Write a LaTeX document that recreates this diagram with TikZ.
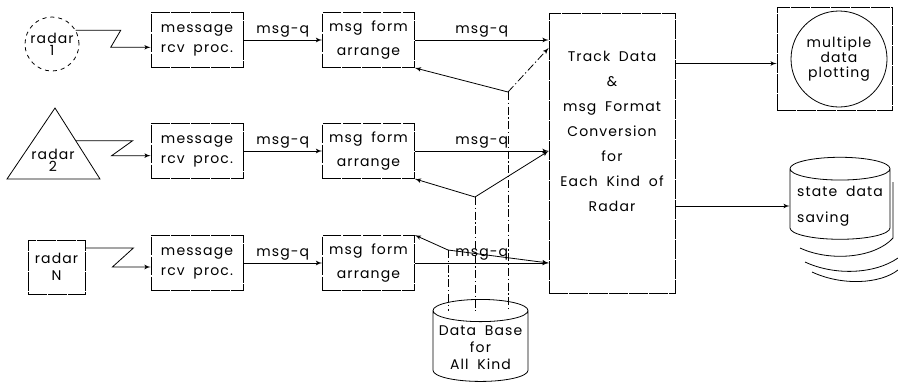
\documentclass[tikz,border=0pt]{standalone}
\usepackage{fontspec}
\newfontfamily\plotfont[LetterSpace=8, WordSpace=1.8]{Poppins}
\usetikzlibrary{positioning, shapes, arrows, calc}

\begin{document}
\begin{tikzpicture}[auto, x=0.75pt, y=-0.75pt, >=latex', line width=0.6pt,
        font=\plotfont\fontsize{10.5}{12}\selectfont]
        % Définition des styles
        \tikzstyle{block} = [draw, rectangle, minimum width=69pt, minimum height=41.25pt, align=center, inner sep=2pt, dash pattern=on 14pt off 1pt]
        \tikzstyle{txt} = [align=center, inner sep=0pt]
        \tikzstyle{store} = [draw, cylinder, shape border rotate=90, aspect=0.25, inner sep=2pt]
        \tikzstyle{dbline} = [dash pattern=on 6pt off 2pt on 1pt off 2pt]

        \useasboundingbox (0,0) rectangle (898,383);

        % Radars
        \node [draw, circle, dashed, minimum size=40.5pt, align=center, inner sep=0pt] (radar1) at (52,44) {radar\\[-3pt]1};
        \coordinate (r2a) at (55,108);
        \coordinate (r2b) at (100,179);
        \coordinate (r2c) at (7,179);
        \draw (r2a) -- (r2b) -- (r2c) -- cycle;
        \node [txt] (radar2) at (53,160) {radar\\[-3pt]2};
        \node [block, minimum width=42.75pt, minimum height=40.5pt] (radarN) at (56.5,267) {radar\\[0.75pt]N};

        % Blocs de réception
        \node [block] (rcv1) at (197,40) {message\\[3pt]rcv proc.};
        \node [block, below of=rcv1, node distance=83.25pt] (rcv2) {message\\[3pt]rcv proc.};
        \node [block, below of=rcv2, node distance=84pt] (rcv3) {message\\[3pt]rcv proc.};

        % Blocs de mise en forme
        \node [block, right of=rcv1, node distance=128.6pt] (form1) {msg form\\[6pt]arrange};
        \node [block, right of=rcv2, node distance=128.6pt] (form2) {msg form\\[6pt]arrange};
        \node [block, right of=rcv3, node distance=128.6pt] (form3) {msg form\\[6pt]arrange};

        % Bloc de conversion
        \node [block, minimum width=94.5pt, minimum height=210pt] (conv) at (612,153) {};
        \node [txt] (convtxt) at (612,131) {Track Data\\[6.75pt]\&\\[6.75pt]msg Format\\[6.75pt]Conversion\\[6.75pt]for\\[6.75pt]Each Kind of\\[6.75pt]Radar};

        % Base de données
        \node [store, minimum width=71.25pt, minimum height=61.5pt, align=center, text height=32pt, text depth=-8pt] (db) at (480.5,348) {Data Base\\[0.75pt]for\\[0.75pt]All Kind};

        % Sorties
        \node [block, minimum width=86.25pt, minimum height=77.25pt] (plot) at (834.5,58.5) {};
        \node [draw, circle, minimum size=72pt, align=center, inner sep=0pt] (plotc) at (839,59) {multiple\\[-0.75pt]data\\[-0.75pt]plotting};
        \node [store, minimum width=75pt, minimum height=61.5pt, align=left] (save) at (840,206) {state data\\[7.5pt]saving};
        \draw (893,182) -- (893,238) .. controls (875,258) and (830,262) .. (800,248);
        \draw (805,262) .. controls (835,276) and (875,274) .. (898,258);
        \draw (812,272) .. controls (842,286) and (880,284) .. (898,270);

        % Liaisons radar
        \draw [->] (radar1.30) -- ++(45,0) -- ++(-10,17) coordinate (z1) -- (z1 -| rcv1.west);
        \draw [->] ($(r2a)!0.46!(r2b)$) -- ++(57,0) -- ++(-21,15) coordinate (z2) -- (z2 -| rcv2.west);
        \draw [->] ($(radarN.east)+(0,-19)$) -- ++(48,0) -- ++(-21,19) coordinate (z3) -- (z3 -| rcv3.west);

        % Connexions principales
        \foreach \i in {1,2,3} {
            \draw [->] (rcv\i) -- node[above, inner sep=2pt] {msg-q} (form\i);
            \draw [->] (form\i) -- node[above, inner sep=2pt] {msg-q} (conv.west |- form\i.east);
        }
        \draw [->] ($(conv.east |- plot.west)+(0,5)$) -- ($(plot.west)+(0,5)$);
        \draw [->] (conv.east |- save.west) -- (save.west);

        % Liaisons avec la base de données
        \coordinate (j1) at (508,92);
        \coordinate (j2) at (475,197);
        \coordinate (j3) at (448,250);
        \draw [->] (j1) -- (form1.south east);
        \draw [->, dbline] (j1) -- ($(conv.west |- form1.east)+(0,8)$);
        \draw [->] (j2) -- (form2.south east);
        \draw [->] (j2) -- (conv.west |- form2.east);
        \draw [->] (j3) -- (form3.north east);
        \draw [->] (j3) -- (conv.west |- form3.east);
        \foreach \j in {j1,j2,j3}
            \draw [dbline] (\j) -- (\j |- db.before top);

    \end{tikzpicture}
\end{document}
